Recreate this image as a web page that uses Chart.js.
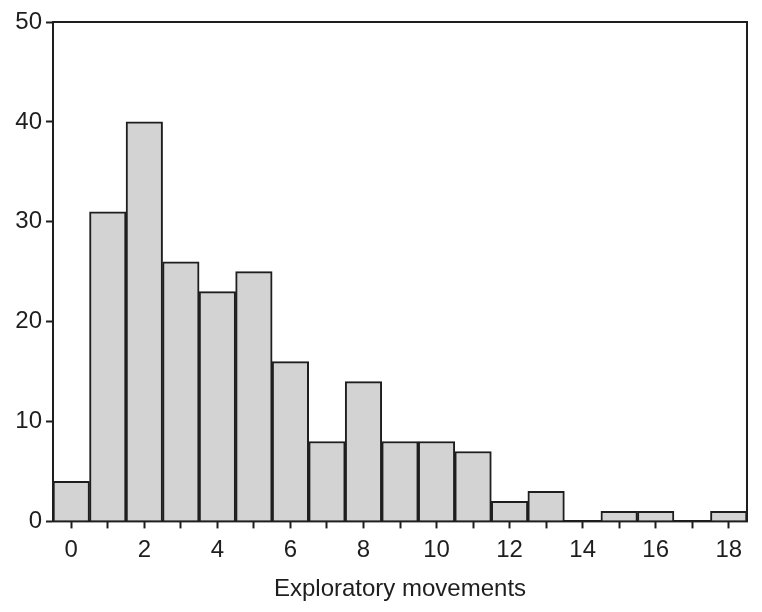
<!DOCTYPE html>
<html>
<head>
<meta charset="utf-8">
<script src="https://cdn.jsdelivr.net/npm/chart.js@4/dist/chart.umd.min.js"></script>
<style>
  html, body { margin: 0; padding: 0; background: #ffffff; }
  #wrap { width: 762px; height: 612px; }
</style>
</head>
<body>
<div id="wrap"><canvas id="histChart"></canvas></div>
<script>
const movementCounts = ["0", "1", "2", "3", "4", "5", "6", "7", "8", "9", "10", "11", "12", "13", "14", "15", "16", "17", "18"];
const frequencies = [4, 31, 40, 26, 23, 25, 16, 8, 14, 8, 8, 7, 2, 3, 0, 1, 1, 0, 1];
const yTicks = [0, 10, 20, 30, 40, 50];

const FONT = "'Liberation Sans', Arial, Helvetica, sans-serif";
const INK = "#1e1e1e";

// draws the closed box around the plot area
const frameBox = {
  id: "frameBox",
  afterDatasetsDraw: function (chart) {
    const area = chart.chartArea;
    const ctx = chart.ctx;
    ctx.save();
    ctx.strokeStyle = INK;
    ctx.lineWidth = 2;
    ctx.strokeRect(area.left, area.top, area.right - area.left, area.bottom - area.top);
    ctx.restore();
  }
};

new Chart(document.getElementById("histChart"), {
  type: "bar",
  data: {
    labels: movementCounts,
    datasets: [{
      label: "Frequency",
      data: frequencies,
      backgroundColor: "#d3d3d3",
      borderColor: INK,
      borderWidth: 2,
      borderSkipped: "bottom",
      barPercentage: 1,
      categoryPercentage: 1
    }]
  },
  options: {
    responsive: true,
    maintainAspectRatio: false,
    animation: false,
    events: [],
    layout: {
      padding: { top: 22, right: 15, bottom: 8, left: 0 }
    },
    plugins: {
      legend: { display: false },
      tooltip: { enabled: false }
    },
    scales: {
      x: {
        offset: true,
        grid: {
          offset: false,
          drawOnChartArea: false,
          drawTicks: true,
          tickLength: 7,
          tickWidth: 2,
          tickColor: INK
        },
        border: { display: true, color: INK, width: 2 },
        ticks: {
          color: INK,
          autoSkip: false,
          maxRotation: 0,
          padding: 8,
          font: { family: FONT, size: 24 },
          callback: function (value, index) {
            return index % 2 === 0 ? movementCounts[index] : "";
          }
        },
        title: {
          display: true,
          text: "Exploratory movements",
          color: INK,
          font: { family: FONT, size: 24 },
          padding: { top: 2, bottom: 0 }
        }
      },
      y: {
        min: 0,
        max: 50,
        afterBuildTicks: function (scale) {
          scale.ticks = yTicks.map(function (v) { return { value: v }; });
        },
        afterFit: function (scale) {
          scale.width = 53;
        },
        grid: {
          drawOnChartArea: false,
          drawTicks: true,
          tickLength: 7,
          tickWidth: 2,
          tickColor: INK
        },
        border: { display: true, color: INK, width: 2 },
        ticks: {
          color: INK,
          padding: 4,
          font: { family: FONT, size: 24 }
        }
      }
    }
  },
  plugins: [frameBox]
});
</script>
</body>
</html>
